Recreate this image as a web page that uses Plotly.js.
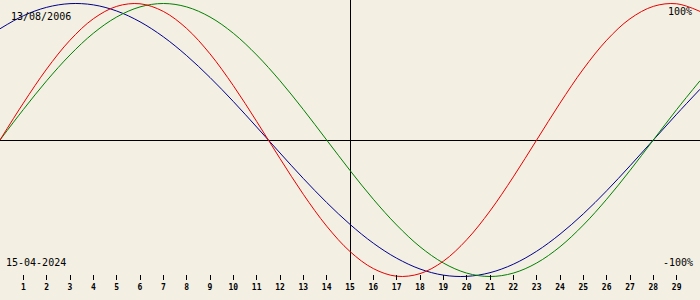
<!DOCTYPE html>
<html><head><meta charset="utf-8">
<script src="https://cdn.plot.ly/plotly-3.0.1.min.js"></script>
<style>html,body{margin:0;padding:0;background:#F3EFE3;overflow:hidden}</style>
</head><body><div id="chart" style="width:700px;height:300px"></div>
<script>
// Day of month (x) — April 2024, selected day 15
const days = [0,1,2,3,4,5,6,7,8,9,10,11,12,13,14,15,16,17,18,19,20,21,22,23,24,25,26,27,28,29,30];
// Physical cycle (red), -1..1
const physical = [0,0.270,0.520,0.731,0.888,0.979,0.998,0.942,0.817,0.631,0.398,0.136,-0.136,-0.398,-0.631,-0.817,-0.942,-0.998,-0.979,-0.888,-0.731,-0.520,-0.270,0,0.270,0.520,0.731,0.888,0.979,0.998,0.942];
// Emotional cycle (green)
const emotional = [0,0.223,0.434,0.623,0.782,0.901,0.975,1,0.975,0.901,0.782,0.623,0.434,0.223,0,-0.223,-0.434,-0.623,-0.782,-0.901,-0.975,-1,-0.975,-0.901,-0.782,-0.623,-0.434,-0.223,0,0.223,0.434];
// Intellectual cycle (blue)
const intellectual = [0.815,0.910,0.972,0.999,0.990,0.945,0.866,0.756,0.618,0.458,0.282,0.095,-0.095,-0.282,-0.458,-0.618,-0.756,-0.866,-0.945,-0.990,-0.999,-0.972,-0.910,-0.815,-0.690,-0.541,-0.372,-0.189,0,0.189,0.372];
const tickDays = [1,2,3,4,5,6,7,8,9,10,11,12,13,14,15,16,17,18,19,20,21,22,23,24,25,26,27,28,29];
const tickLabels = tickDays.map(String);
const birthLabel = '13/08/2006';
const dateLabel = '15-04-2024';
const topLabel = '100%';
const bottomLabel = '-100%';
const selectedDay = 15;

const bg = '#F3EFE3';
const mono = 'DejaVu Sans Mono, monospace';

const traces = [
  {x: days, y: intellectual, mode: 'lines', line: {color: '#00008C', width: 1, shape: 'spline'}, hoverinfo: 'skip'},
  {x: days, y: emotional, mode: 'lines', line: {color: '#008000', width: 1, shape: 'spline'}, hoverinfo: 'skip'},
  {x: days, y: physical, mode: 'lines', line: {color: '#E80000', width: 1, shape: 'spline'}, hoverinfo: 'skip'}
];

const layout = {
  width: 700, height: 300,
  margin: {l: 0, r: 0, t: 0, b: 20, pad: 0},
  paper_bgcolor: bg, plot_bgcolor: bg,
  showlegend: false,
  xaxis: {
    range: [0, 30], showgrid: false, zeroline: false, showline: false,
    tickmode: 'array', tickvals: tickDays, ticktext: tickLabels,
    ticks: 'inside', ticklen: 5, tickwidth: 1, tickcolor: '#000',
    tickfont: {family: mono, size: 8, color: '#000', weight: 'bold'},
    ticklabelstandoff: 1,
    fixedrange: true
  },
  // overlay axis only used to draw the selected-day marker line as a crisp grid line
  xaxis2: {
    overlaying: 'x', range: [0, 30], tickmode: 'array', tickvals: [selectedDay],
    showgrid: true, gridcolor: '#000', gridwidth: 1, showticklabels: false, ticks: '',
    zeroline: false, showline: false, fixedrange: true
  },
  yaxis: {
    range: [-1.0256, 1.0256], showgrid: false, showticklabels: false, ticks: '',
    zeroline: true, zerolinecolor: '#000', zerolinewidth: 1, showline: false,
    fixedrange: true
  },
  annotations: [
    {text: birthLabel, xref: 'paper', yref: 'paper', x: 9/700, y: 1 - 16/280, xanchor: 'left', yanchor: 'middle', showarrow: false, font: {family: mono, size: 10, color: '#000'}},
    {text: topLabel, xref: 'paper', yref: 'paper', x: 694/700, y: 1 - 12/280, xanchor: 'right', yanchor: 'middle', showarrow: false, font: {family: mono, size: 10, color: '#000'}},
    {text: dateLabel, xref: 'paper', yref: 'paper', x: 4/700, y: 1 - 262.5/280, xanchor: 'left', yanchor: 'middle', showarrow: false, font: {family: mono, size: 10, color: '#000'}},
    {text: bottomLabel, xref: 'paper', yref: 'paper', x: 695/700, y: 1 - 262.5/280, xanchor: 'right', yanchor: 'middle', showarrow: false, font: {family: mono, size: 10, color: '#000'}}
  ]
};

// dummy invisible trace to activate xaxis2
traces.unshift({x: [selectedDay], y: [0], xaxis: 'x2', mode: 'markers', marker: {opacity: 0}, hoverinfo: 'skip'});

Plotly.newPlot('chart', traces, layout, {staticPlot: true, displayModeBar: false});
</script>
</body></html>
